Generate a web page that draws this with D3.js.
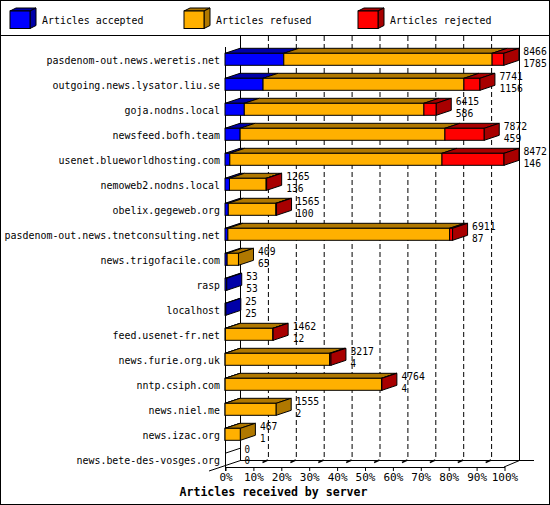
<!DOCTYPE html>
<html><head><meta charset="utf-8">
<script src="https://cdn.jsdelivr.net/npm/d3@7/dist/d3.min.js"></script>
<style>body{margin:0;background:#fff}svg{display:block}</style>
</head><body><svg id="c" width="550" height="505"></svg>
<script>
const servers = ["pasdenom-out.news.weretis.net","outgoing.news.lysator.liu.se","goja.nodns.local","newsfeed.bofh.team","usenet.blueworldhosting.com","nemoweb2.nodns.local","obelix.gegeweb.org","pasdenom-out.news.tnetconsulting.net","news.trigofacile.com","rasp","localhost","feed.usenet-fr.net","news.furie.org.uk","nntp.csiph.com","news.niel.me","news.izac.org","news.bete-des-vosges.org"];
const totals   = [8466,7741,6415,7872,8472,1265,1565,6911,409,53,25,1462,3217,4764,1555,467,0];
const accepted = [1785,1156,586,459,146,136,100,87,65,53,25,12,4,4,2,1,0];
const refused  = [6326,6099,5454,6219,6443,1114,1445,6734,344,0,0,1442,3173,4748,1553,466,0];
const rejected = [355,486,375,1194,1883,15,20,90,0,0,0,8,40,12,0,0,0];
const seriesNames = ["Articles accepted","Articles refused","Articles rejected"];
const tickValues = [0,10,20,30,40,50,60,70,80,90,100];

const front = ["#0000ff","#ffb000","#ff0000"];
const dark  = ["#0000a8","#b07800","#a80000"];
const FONT = "'DejaVu Sans Mono', monospace";

const svg = d3.select("#c");
const maxTotal = d3.max(totals);
const pct = d3.scaleLinear().domain([0,100]).range([225,504]);
const xv = v => pct(v/maxTotal*100);
const y = d3.scalePoint().domain(servers).range([59.3,459.3]);
const DX = 15, DY = 5, BH = 6;

// frame
svg.append("rect").attr("x",0.5).attr("y",0.5).attr("width",549).attr("height",504).attr("fill","#fff").attr("stroke","#000");
svg.append("line").attr("x1",0).attr("x2",550).attr("y1",35.5).attr("y2",35.5).attr("stroke","#000");

// legend
seriesNames.forEach((name,i)=>{
  const lx = [10,184,358][i];
  const g = svg.append("g");
  g.append("polygon").attr("points",`${lx},11 ${lx+6},8 ${lx+26},8 ${lx+20},11`).attr("fill",dark[i]).attr("stroke","#000");
  g.append("polygon").attr("points",`${lx+20},11 ${lx+26},8 ${lx+26},25.5 ${lx+20},28.5`).attr("fill",dark[i]).attr("stroke","#000");
  g.append("rect").attr("x",lx).attr("y",11).attr("width",20).attr("height",17.5).attr("fill",front[i]).attr("stroke","#000");
  g.append("text").attr("x",lx+32).attr("y",24).attr("font-family",FONT).attr("font-size",11)
    .attr("textLength",name.length*6-0.5).attr("lengthAdjust","spacingAndGlyphs").text(name);
});

// back wall
const bx = v => pct(v)+DX;
svg.append("g").selectAll("line").data(tickValues.filter(t=>t>0&&t<100)).join("line")
  .attr("x1",d=>bx(d)+0.5).attr("x2",d=>bx(d)+0.5).attr("y1",36).attr("y2",460)
  .attr("stroke","#000").attr("stroke-dasharray","5,3");
// floor dashed diagonals
svg.append("g").selectAll("line").data(tickValues.filter(t=>t>0&&t<100)).join("line")
  .attr("x1",d=>bx(d)).attr("y1",460).attr("x2",d=>pct(d)).attr("y2",467)
  .attr("stroke","#000").attr("stroke-dasharray","6,12").attr("stroke-width",1.5);
svg.append("line").attr("x1",240.5).attr("x2",240.5).attr("y1",36).attr("y2",460).attr("stroke","#000");
svg.append("line").attr("x1",519.5).attr("x2",519.5).attr("y1",36).attr("y2",460).attr("stroke","#000");
svg.append("line").attr("x1",240).attr("x2",534).attr("y1",460.5).attr("y2",460.5).attr("stroke","#000");
svg.append("line").attr("x1",504).attr("y1",467).attr("x2",519.5).attr("y2",460.5).attr("stroke","#000");
svg.append("line").attr("x1",209).attr("y1",471).attr("x2",240.5).attr("y2",460.5).attr("stroke","#000");
svg.append("line").attr("x1",225.5).attr("x2",225.5).attr("y1",47).attr("y2",471).attr("stroke","#000");

// x axis
const axis = d3.axisBottom(pct).tickValues(tickValues).tickFormat(d=>d+"%").tickSize(4).tickSizeOuter(0);
const ax = svg.append("g").attr("transform","translate(0.5,467)").call(axis);
ax.select(".domain").attr("stroke","#000");
ax.selectAll(".tick line").attr("stroke","#000");
ax.selectAll(".tick text").attr("font-family",FONT).attr("font-size",11).attr("fill","#000").attr("dy","0.55em").attr("y",7.5);

// categories
svg.append("g").selectAll("text").data(servers).join("text")
  .attr("x",220).attr("y",d=>y(d)+4.5).attr("text-anchor","end")
  .attr("font-family",FONT).attr("font-size",11)
  .attr("textLength",d=>d.length*6-0.5).attr("lengthAdjust","spacingAndGlyphs").text(d=>d);

// bars
servers.forEach((s,i)=>{
  const c = y(s);
  const vals = [accepted[i],refused[i],rejected[i]];
  const g = svg.append("g");
  let cum = 0, last = -1, x1 = xv(0);
  vals.forEach((v,k)=>{
    if (v<=0) return;
    const a = xv(cum), b = xv(cum+v);
    cum += v; last = k; x1 = b;
    g.append("polygon").attr("points",`${a},${c-BH} ${a+DX},${c-BH-DY} ${b+DX},${c-BH-DY} ${b},${c-BH}`)
      .attr("fill",dark[k]).attr("stroke","#000");
    g.append("rect").attr("x",a).attr("y",c-BH).attr("width",b-a).attr("height",BH*2)
      .attr("fill",front[k]).attr("stroke","#000");
  });
  if (last>=0) {
    g.append("polygon").attr("points",`${x1},${c-BH} ${x1+DX},${c-BH-DY} ${x1+DX},${c+BH-DY} ${x1},${c+BH}`)
      .attr("fill",dark[last]).attr("stroke","#000");
  } else {
    g.append("line").attr("x1",x1).attr("y1",c-BH).attr("x2",x1+DX).attr("y2",c-BH-DY).attr("stroke","#000");
  }
  const tx = x1+DX+4.5;
  const zeroRow = totals[i]===0 ? -2.5 : 0;
  [totals[i],accepted[i]].forEach((v,j)=>{
    const str = String(v);
    g.append("text").attr("font-family",FONT).attr("font-size",10)
      .attr("x",tx).attr("y",c+zeroRow+(j?7.5:-4.3))
      .attr("textLength",str.length*6-0.5).attr("lengthAdjust","spacingAndGlyphs").text(str);
  });
});

// title
svg.append("text").attr("x",273.5).attr("y",496).attr("text-anchor","middle")
  .attr("font-family",FONT).attr("font-weight","bold").attr("font-size",12)
  .attr("textLength",188).attr("lengthAdjust","spacingAndGlyphs").text("Articles received by server");
</script></body></html>
